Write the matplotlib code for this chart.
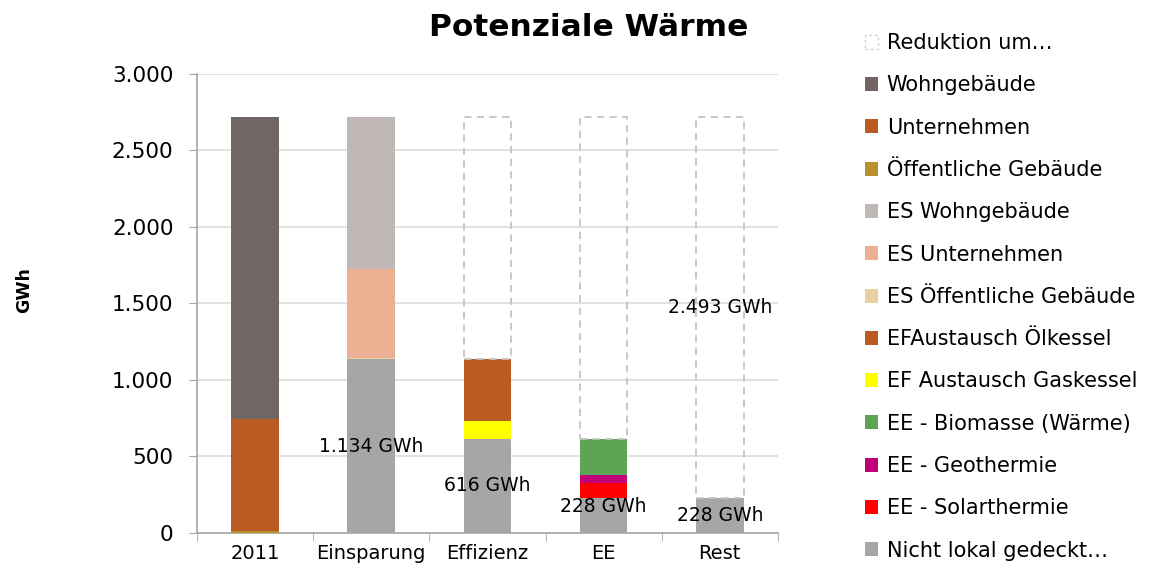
import matplotlib

matplotlib.use("Agg")
import matplotlib.pyplot as plt
from matplotlib.patches import Patch
from matplotlib.ticker import FuncFormatter

plt.rcParams["font.family"] = ["DejaVu Sans"]

categories = ["2011", "Einsparung", "Effizienz", "EE", "Rest"]

# series in legend order (top of legend = top of stack)
series_names = [
    "Reduktion um…",
    "Wohngebäude",
    "Unternehmen",
    "Öffentliche Gebäude",
    "ES Wohngebäude",
    "ES Unternehmen",
    "ES Öffentliche Gebäude",
    "EFAustausch Ölkessel",
    "EF Austausch Gaskessel",
    "EE - Biomasse (Wärme)",
    "EE - Geothermie",
    "EE - Solarthermie",
    "Nicht lokal gedeckt…",
]
reduktion = [0, 0, 1587, 2105, 2493]
wohngebaeude = [1979, 0, 0, 0, 0]
unternehmen = [729, 0, 0, 0, 0]
oeffentliche = [13, 0, 0, 0, 0]
es_wohngebaeude = [0, 993, 0, 0, 0]
es_unternehmen = [0, 584, 0, 0, 0]
es_oeffentliche = [0, 10, 0, 0, 0]
ef_oelkessel = [0, 0, 403, 0, 0]
ef_gaskessel = [0, 0, 115, 0, 0]
ee_biomasse = [0, 0, 0, 238, 0]
ee_geothermie = [0, 0, 0, 53, 0]
ee_solarthermie = [0, 0, 0, 97, 0]
nicht_lokal = [0, 1134, 616, 228, 228]

series_values = [
    reduktion, wohngebaeude, unternehmen, oeffentliche, es_wohngebaeude,
    es_unternehmen, es_oeffentliche, ef_oelkessel, ef_gaskessel,
    ee_biomasse, ee_geothermie, ee_solarthermie, nicht_lokal,
]
colors = [
    "none", "#716664", "#b95b23", "#b98f2f", "#bfb8b7", "#ebb192", "#e8d0a0",
    "#b95b23", "#ffff00", "#5ea553", "#c0007a", "#ff0000", "#a6a6a6",
]

# label placement within the "Nicht lokal gedeckt" segment (fraction of height)
label_frac = [0.5, 0.5, 0.75, 0.5]


def de_thousands(v, _pos=None):
    return f"{v:,.0f}".replace(",", ".")


fig = plt.figure(figsize=(11.49, 5.77), dpi=100)
fig.patch.set_facecolor("white")
ax = fig.add_axes([0.1715, 0.0763, 0.5055, 0.7955])

x = list(range(len(categories)))
width = 0.41
bottoms = [0.0] * len(categories)
# stack from the bottom of the legend upwards
for name, vals, col in reversed(list(zip(series_names, series_values, colors))):
    if name.startswith("Reduktion"):
        for xi, v, b in zip(x, vals, bottoms):
            if v > 0:
                ax.bar(xi, v, width, bottom=b, facecolor="none",
                       edgecolor="#c4c4c4", linestyle=(0, (4, 3)),
                       linewidth=1.3, zorder=3)
    else:
        ax.bar(x, vals, width, bottom=bottoms, color=col, linewidth=0, zorder=3)
    bottoms = [b + v for b, v in zip(bottoms, vals)]

# value labels
for i, frac in zip(range(1, 5), label_frac):
    ax.text(i, nicht_lokal[i] * frac, f"{de_thousands(nicht_lokal[i])} GWh",
            ha="center", va="center", fontsize=13.5, color="black", zorder=5)
ax.text(4, nicht_lokal[4] + reduktion[4] / 2, f"{de_thousands(reduktion[4])} GWh",
        ha="center", va="center", fontsize=13.5, color="black", zorder=5)

ax.set_xlim(-0.5, len(categories) - 0.5)
ax.set_ylim(0, 3000)
ax.set_yticks(range(0, 3001, 500))
ax.yaxis.set_major_formatter(FuncFormatter(de_thousands))
ax.set_xticks(x)
ax.set_xticklabels(categories)
ax.set_xticks([i - 0.5 for i in range(len(categories) + 1)], minor=True)
ax.tick_params(axis="x", which="major", length=0, labelsize=14, pad=8)
ax.tick_params(axis="x", which="minor", length=6, color="#a6a6a6", direction="out")
ax.tick_params(axis="y", length=6, color="#a6a6a6", labelsize=15.5, pad=11)
ax.grid(axis="y", color="#dcdcdc", linewidth=1.2, zorder=0)
for side in ("top", "right"):
    ax.spines[side].set_visible(False)
for side in ("left", "bottom"):
    ax.spines[side].set_color("#a6a6a6")
    ax.spines[side].set_linewidth(1.2)

fig.text(0.021, 0.497, "GWh", rotation=90, ha="center", va="center",
         fontsize=12.5, fontweight="bold")
fig.text(0.512, 0.952, "Potenziale Wärme", ha="center", va="center",
         fontsize=22.5, fontweight="bold")

legend_handles = []
for name, col in zip(series_names, colors):
    if name.startswith("Reduktion"):
        legend_handles.append(Patch(facecolor="none", edgecolor="#d0d0d0",
                                    linestyle=(0, (2, 2)), label=name))
    else:
        legend_handles.append(Patch(facecolor=col, edgecolor="none", label=name))
fig.legend(handles=legend_handles, loc="upper left", bbox_to_anchor=(0.7455, 0.957),
           frameon=False, fontsize=15, handlelength=0.65, handleheight=0.65,
           handletextpad=0.4, labelspacing=1.07, borderaxespad=0)

fig.savefig("out.png", dpi=100, facecolor="white")
